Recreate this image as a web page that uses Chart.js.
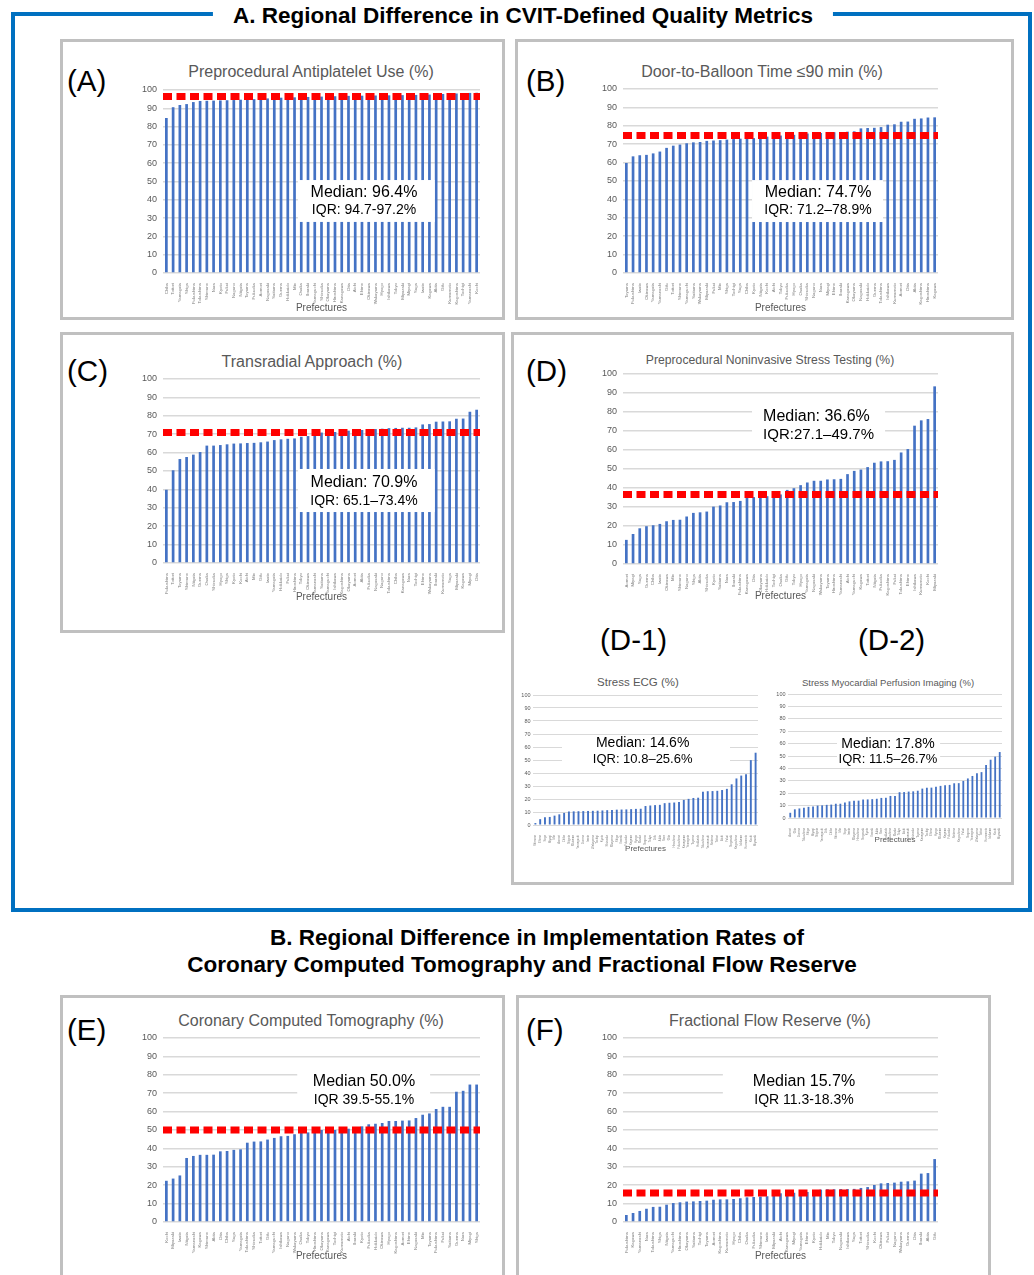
<!DOCTYPE html>
<html>
<head>
<meta charset="utf-8">
<script src="https://cdn.jsdelivr.net/npm/chart.js@4.4.1/dist/chart.umd.min.js"></script>
<style>
  html, body { margin: 0; padding: 0; background: #fff; }
  #page { position: relative; width: 1034px; height: 1275px; overflow: hidden;
          font-family: "Liberation Sans", Arial, sans-serif; }
  .frame { position: absolute; box-sizing: border-box; border: 4px solid #0070C0; }
  .panel { position: absolute; box-sizing: border-box; border: 3px solid #c0c0c0; }
  .sec { position: absolute; font-weight: bold; font-size: 22.5px; color: #000; background: #fff;
         white-space: nowrap; transform: translate(-50%, -50%); padding: 0 20px; line-height: 1; }
  .tag { position: absolute; font-size: 29.5px; color: #000; line-height: 1;
         transform: translateY(-50%); white-space: nowrap; }
  .ttl { position: absolute; color: #595959; white-space: nowrap; line-height: 1;
         transform: translate(-50%, -50%); }
  canvas { position: absolute; }
</style>
</head>
<body>
<div id="page">
  <div class="frame" style="left:11px;top:12px;width:1021px;height:900px;"></div>
  <div class="sec" style="left:523px;top:16px;">A. Regional Difference in CVIT-Defined Quality Metrics</div>

  <div class="panel" style="left:60px;top:39px;width:445px;height:281px;"></div>
  <div class="panel" style="left:515px;top:39px;width:499px;height:281px;"></div>
  <div class="panel" style="left:60px;top:332px;width:445px;height:301px;"></div>
  <div class="panel" style="left:511px;top:332px;width:503px;height:553px;"></div>
  <div class="panel" style="left:60px;top:995px;width:445px;height:300px;"></div>
  <div class="panel" style="left:516px;top:995px;width:475px;height:300px;"></div>

  <div class="sec" style="left:537px;top:938px;padding:0;">B. Regional Difference in Implementation Rates of</div>
  <div class="sec" style="left:522px;top:965px;padding:0;">Coronary Computed Tomography and Fractional Flow Reserve</div>

  <div class="tag" style="left:67px;top:81px;">(A)</div>
  <div class="tag" style="left:526px;top:81px;">(B)</div>
  <div class="tag" style="left:67px;top:371px;">(C)</div>
  <div class="tag" style="left:526px;top:371px;">(D)</div>
  <div class="tag" style="left:600px;top:640px;">(D-1)</div>
  <div class="tag" style="left:858px;top:640px;">(D-2)</div>
  <div class="tag" style="left:67px;top:1030px;">(E)</div>
  <div class="tag" style="left:526px;top:1030px;">(F)</div>

  <div class="ttl" style="left:311px;top:72px;font-size:16px;">Preprocedural Antiplatelet Use (%)</div>
  <div class="ttl" style="left:762px;top:72px;font-size:16px;">Door-to-Balloon Time ≤90 min (%)</div>
  <div class="ttl" style="left:312px;top:362px;font-size:16px;">Transradial Approach (%)</div>
  <div class="ttl" style="left:770px;top:360px;font-size:12.2px;">Preprocedural Noninvasive Stress Testing (%)</div>
  <div class="ttl" style="left:638px;top:683px;font-size:11.5px;">Stress ECG (%)</div>
  <div class="ttl" style="left:888px;top:683px;font-size:9.5px;">Stress Myocardial Perfusion Imaging (%)</div>
  <div class="ttl" style="left:311px;top:1021px;font-size:16px;">Coronary Computed Tomography (%)</div>
  <div class="ttl" style="left:770px;top:1021px;font-size:16px;">Fractional Flow Reserve (%)</div>
</div>

<script>
// ---- Data: prefectures sorted by rate in each metric ----
const prefA = ['Chiba','Tottori','Yamagata','Shiga','Fukushima','Tokushima','Shimane','Nara','Kyoto','Fukui','Nagano','Niigata','Toyama','Fukuoka','Aomori','Nagasaki','Saitama','Gunma','Hokkaido','Mie','Osaka','Ibaraki','Yamaguchi','Shizuoka','Okayama','Hiroshima','Kanagawa','Oita','Aichi','Ehime','Okinawa','Wakayama','Hyogo','Ishikawa','Tokyo','Miyazaki','Miyagi','Saga','Iwate','Kagawa','Akita','Gifu','Kumamoto','Kagoshima','Tochigi','Yamanashi','Kochi'];
const valA = [84.7,90.6,91.8,92.3,93.4,94.0,94.1,94.2,94.3,94.4,94.5,94.7,94.8,95.0,95.1,95.4,95.6,95.8,95.9,96.0,96.1,96.2,96.3,96.4,96.5,96.6,96.7,96.8,96.9,96.9,97.0,97.0,97.0,97.1,97.1,97.2,97.2,97.3,97.4,97.5,97.6,97.8,98.0,98.1,98.3,98.4,98.5];

const prefB = ['Toyama','Fukushima','Iwate','Okinawa','Yamagata','Yamanashi','Gifu','Tottori','Shimane','Yamaguchi','Saitama','Wakayama','Miyazaki','Fukui','Mie','Shiga','Tochigi','Saga','Chiba','Kyoto','Niigata','Kochi','Aichi','Tokyo','Fukuoka','Hyogo','Osaka','Shizuoka','Nagano','Nara','Miyagi','Ehime','Ibaraki','Kanagawa','Okayama','Nagasaki','Hokkaido','Gunma','Tokushima','Ishikawa','Kumamoto','Aomori','Oita','Akita','Kagoshima','Hiroshima','Kagawa'];
const valB = [59.8,63.4,64.0,64.2,65.0,66.0,68.0,69.2,69.8,70.5,71.0,71.2,71.8,72.0,72.2,72.5,72.8,73.0,73.1,73.3,73.6,74.1,74.3,74.7,74.9,75.1,75.6,75.8,76.1,76.1,76.3,76.5,76.6,76.8,77.0,78.6,78.8,78.9,79.3,80.6,80.8,82.2,82.3,83.8,84.0,84.5,84.6];

const prefC = ['Fukushima','Tottori','Toyama','Shimane','Niigata','Gunma','Osaka','Shizuoka','Hyogo','Shiga','Kyoto','Kochi','Aichi','Mie','Gifu','Iwate','Yamagata','Hokkaido','Fukui','Hiroshima','Tokyo','Okinawa','Yamanashi','Saitama','Yamaguchi','Ishikawa','Kagoshima','Okayama','Aomori','Akita','Fukuoka','Nagasaki','Nagano','Tokushima','Chiba','Kanagawa','Nara','Tochigi','Ehime','Wakayama','Ibaraki','Kumamoto','Saga','Miyazaki','Kagawa','Miyagi','Oita'];
const valC = [39.8,50.4,56.5,57.6,58.9,60.3,63.8,63.8,64.1,64.5,64.9,65.0,65.2,65.3,65.6,66.0,66.8,67.2,67.5,67.7,68.6,69.0,70.3,70.9,70.9,71.2,71.7,71.9,72.2,72.3,72.6,72.8,73.0,73.3,73.4,73.5,73.5,73.7,75.3,75.5,76.8,76.9,77.0,78.4,78.5,82.2,83.3];

const prefD = ['Aomori','Miyagi','Saga','Gunma','Chiba','Iwate','Okinawa','Mie','Shimane','Nagano','Shiga','Akita','Shizuoka','Kyoto','Saitama','Nara','Ibaraki','Fukushima','Kanagawa','Oita','Okayama','Hokkaido','Tochigi','Osaka','Gifu','Tokyo','Hyogo','Yamagata','Nagasaki','Wakayama','Toyama','Hiroshima','Yamanashi','Aichi','Yamaguchi','Kagawa','Tottori','Niigata','Fukuoka','Kagoshima','Fukui','Tokushima','Ehime','Ishikawa','Kumamoto','Kochi','Miyazaki'];
const valD = [12.7,15.8,18.8,19.9,20.4,21.1,22.5,23.2,23.3,25.0,26.9,27.2,27.6,30.2,30.8,32.5,32.6,33.2,35.0,35.2,35.4,35.7,36.4,36.6,39.0,39.9,41.5,42.9,43.8,43.8,44.5,44.6,44.8,47.3,49.0,49.7,51.0,53.3,54.0,54.1,54.8,58.7,60.5,72.8,75.6,76.3,93.5];

const prefD1 = ['Shimane','Ehime','Saga','Miyagi','Mie','Aomori','Chiba','Niigata','Okinawa','Yamaguchi','Gunma','Iwate','Wakayama','Tochigi','Kyoto','Shizuoka','Okayama','Shiga','Ibaraki','Fukuoka','Kagawa','Hyogo','Osaka','Nagano','Tokyo','Gifu','Akita','Nara','Oita','Hiroshima','Fukushima','Kanagawa','Yamagata','Toyama','Hokkaido','Tokushima','Yamanashi','Saitama','Tottori','Aichi','Fukui','Nagasaki','Kagoshima','Ishikawa','Kumamoto','Kochi','Miyazaki'];
const valD1 = [1.5,4.5,6.0,6.2,7.2,8.2,9.3,10.4,10.5,10.6,10.7,10.8,10.9,11.0,11.2,11.4,11.6,11.8,11.9,12.0,12.2,12.4,12.5,14.6,15.0,15.3,15.5,16.8,17.1,17.3,17.6,19.3,20.1,20.8,21.0,25.6,26.0,26.1,26.3,26.9,27.8,31.3,35.8,38.0,39.0,49.9,55.6];

const prefD2 = ['Aomori','Oita','Gunma','Tokushima','Shiga','Miyagi','Niigata','Yamaguchi','Gifu','Chiba','Shimane','Mie','Saga','Iwate','Okayama','Hiroshima','Nagasaki','Kyoto','Ibaraki','Akita','Nara','Hokkaido','Fukushima','Osaka','Tokyo','Aichi','Yamanashi','Shizuoka','Toyama','Kanagawa','Tochigi','Ehime','Hyogo','Okinawa','Kagawa','Fukuoka','Saitama','Kagoshima','Fukui','Nagano','Yamagata','Wakayama','Tottori','Kumamoto','Ishikawa','Kochi','Miyazaki'];
const valD2 = [4.2,7.0,7.7,8.3,9.0,9.2,10.0,10.2,10.6,10.8,11.5,11.5,12.4,13.4,13.9,14.0,14.9,15.0,15.2,15.5,16.2,16.3,17.8,17.8,20.8,20.9,21.3,21.5,22.0,23.7,24.4,24.5,25.2,25.9,26.5,26.7,28.0,28.1,29.9,31.9,33.9,36.1,37.0,42.7,47.0,49.5,53.2];

const prefE = ['Kochi','Miyazaki','Iwate','Niigata','Yamanashi','Kagawa','Shimane','Akita','Oita','Chiba','Saga','Yamagata','Tokushima','Shizuoka','Tottori','Gifu','Yamaguchi','Ishikawa','Nagano','Wakayama','Osaka','Tokyo','Hiroshima','Okayama','Kanagawa','Tochigi','Kumamoto','Aichi','Ibaraki','Kyoto','Fukuoka','Hokkaido','Okinawa','Hyogo','Kagoshima','Aomori','Ehime','Nagasaki','Mie','Toyama','Fukushima','Fukui','Saitama','Gunma','Nara','Miyagi','Shiga'];
const valE = [22.4,23.6,25.3,34.8,35.9,36.5,36.5,36.6,38.4,38.6,39.2,39.5,43.1,43.7,43.8,44.8,45.7,46.6,46.8,47.7,48.4,48.7,49.1,50.0,50.0,50.0,50.2,50.7,51.4,52.0,53.1,53.4,53.8,54.9,54.9,55.1,55.2,56.5,58.3,59.0,61.4,62.6,62.6,70.8,71.3,74.7,74.7];

const prefF = ['Fukushima','Kagawa','Yamanashi','Nara','Tokushima','Shiga','Niigata','Yamaguchi','Hiroshima','Okayama','Saitama','Tochigi','Toyama','Aomori','Kagoshima','Kumamoto','Hyogo','Chiba','Osaka','Fukuoka','Shimane','Iwate','Miyazaki','Aichi','Kanagawa','Miyagi','Yamagata','Ehime','Kyoto','Hokkaido','Mie','Tokyo','Nagasaki','Ishikawa','Saga','Tottori','Shizuoka','Kochi','Okinawa','Fukui','Nagano','Wakayama','Gunma','Oita','Ibaraki','Akita','Gifu'];
const valF = [3.8,4.9,6.0,7.2,8.2,8.3,9.4,10.3,10.7,11.1,11.2,11.4,11.6,12.1,12.3,12.3,12.5,12.9,13.4,13.6,13.8,14.0,14.7,15.6,15.8,15.9,16.1,16.3,17.4,17.6,17.8,17.8,17.9,17.9,18.0,18.5,19.0,20.1,21.0,21.2,21.4,21.9,22.1,22.5,26.3,26.6,34.2];

// Summary statistics (median, interquartile range) per metric
const medA = 96.4,  iqrA = [94.7, 97.2];
const medB = 74.7,  iqrB = [71.2, 78.9];
const medC = 70.9,  iqrC = [65.1, 73.4];
const medD = 36.6,  iqrD = [27.1, 49.7];
const medD1 = 14.6, iqrD1 = [10.8, 25.6];
const medD2 = 17.8, iqrD2 = [11.5, 26.7];
const medE = 50.0,  iqrE = [39.5, 55.1];
const medF = 15.7,  iqrF = [11.3, 18.3];

// Value-axis ticks (percent)
const yTickMin = 0, yTickMax = 100, yTickStep = 10;

// ---- Rendering ----
const FONT = '"Liberation Sans", Arial, sans-serif';
Chart.defaults.font.family = FONT;

const f1 = v => v.toFixed(1);

// Draws the white summary box, its text and the dashed median line
function annotation(p) {
  return {
    id: 'annotation',
    afterDatasetsDraw(chart) {
      const { ctx, chartArea: a, scales: { x, y } } = chart;
      ctx.save();
      const b = p.box;
      const x0 = x.getPixelForValue(b.i0), x1 = x.getPixelForValue(b.i1);
      const y0 = y.getPixelForValue(b.v1), y1 = y.getPixelForValue(b.v0);
      ctx.fillStyle = '#fff';
      ctx.fillRect(x0, y0, x1 - x0, y1 - y0);
      ctx.fillStyle = '#000';
      ctx.textBaseline = 'middle';
      ctx.textAlign = p.text.align;
      const tx = x.getPixelForValue(p.text.i);
      p.text.lines.forEach(([str, v, size]) => {
        ctx.font = size + 'px ' + FONT;
        ctx.fillText(str, tx, y.getPixelForValue(v));
      });
      if (p.median != null) {
        const my = y.getPixelForValue(p.median);
        ctx.strokeStyle = '#ff0000';
        ctx.lineWidth = 7;
        ctx.setLineDash([9, 4.5]);
        ctx.beginPath();
        ctx.moveTo(a.left, my);
        ctx.lineTo(a.right, my);
        ctx.stroke();
      }
      ctx.restore();
    }
  };
}

function makeChart(p) {
  const s = p.small;
  const yW = s ? 22 : 36, padT = s ? 8 : 13, padR = s ? 5 : 6;
  const titleFont = s ? 8 : 10;
  const left = p.area.l - yW, top = p.area.t - padT;
  const width = p.area.r + padR - left;
  const height = Math.round(p.xTitleY + titleFont * 0.6 - top);
  const xH = top + height - p.area.b;

  const cv = document.createElement('canvas');
  cv.width = width; cv.height = height;
  cv.style.left = left + 'px'; cv.style.top = top + 'px';
  cv.style.width = width + 'px'; cv.style.height = height + 'px';
  document.getElementById('page').appendChild(cv);

  new Chart(cv, {
    type: 'bar',
    data: {
      labels: p.labels,
      datasets: [{ data: p.values, backgroundColor: '#4472C4', barPercentage: 0.4, categoryPercentage: 1 }]
    },
    options: {
      responsive: false,
      animation: false,
      devicePixelRatio: 1,
      layout: { padding: { top: padT, right: padR, left: 0, bottom: 0 } },
      plugins: { legend: { display: false }, tooltip: { enabled: false } },
      scales: {
        x: {
          grid: { display: false },
          border: { display: false },
          ticks: { autoSkip: false, minRotation: 90, maxRotation: 90, padding: 2,
                   font: { size: s ? 2.8 : 4.3 }, color: '#7f7f7f' },
          title: { display: true, text: 'Prefectures', color: '#595959',
                   font: { size: titleFont }, padding: 0 },
          afterFit: sc => { sc.height = xH; }
        },
        y: {
          min: yTickMin, max: yTickMax,
          ticks: { stepSize: yTickStep, padding: s ? 2.5 : 6, font: { size: s ? 5.5 : 9 }, color: '#595959' },
          grid: { color: '#d9d9d9', lineWidth: s ? 1 : 1.5, drawTicks: false },
          border: { display: false },
          afterFit: sc => { sc.width = yW; }
        }
      }
    },
    plugins: [annotation(p)]
  });
}

const panels = [
  { labels: prefA, values: valA, median: medA, area: { l: 163, t: 90, r: 480, b: 273 }, xTitleY: 308,
    box: { i0: 19.5, i1: 39.8, v0: 27.9, v1: 50.8 },
    text: { i: 29.3, align: 'center', lines: [['Median: ' + f1(medA) + '%', 43.7, 16], ['IQR: ' + f1(iqrA[0]) + '-' + f1(iqrA[1]) + '%', 34.4, 14]] } },
  { labels: prefB, values: valB, median: medB, area: { l: 623, t: 89, r: 938, b: 273 }, xTitleY: 308,
    box: { i0: 18.75, i1: 38.3, v0: 27.7, v1: 50.5 },
    text: { i: 28.6, align: 'center', lines: [['Median: ' + f1(medB) + '%', 43.5, 16], ['IQR: ' + f1(iqrB[0]) + '–' + f1(iqrB[1]) + '%', 34.2, 14]] } },
  { labels: prefC, values: valC, median: medC, area: { l: 163, t: 379, r: 480, b: 563 }, xTitleY: 597,
    box: { i0: 19.5, i1: 39.8, v0: 27.7, v1: 51.1 },
    text: { i: 29.3, align: 'center', lines: [['Median: ' + f1(medC) + '%', 43.5, 16], ['IQR: ' + f1(iqrC[0]) + '–' + f1(iqrC[1]) + '%', 33.7, 14]] } },
  { labels: prefD, values: valD, median: medD, area: { l: 623, t: 374, r: 938, b: 564 }, xTitleY: 596,
    box: { i0: 18.75, i1: 38.6, v0: 63.2, v1: 84.2 },
    text: { i: 20.4, align: 'left', lines: [['Median: ' + f1(medD) + '%', 77.4, 16], ['IQR:' + f1(iqrD[0]) + '–' + f1(iqrD[1]) + '%', 67.9, 15]] } },
  { labels: prefD1, values: valD1, median: null, small: true, area: { l: 533, t: 695, r: 758, b: 825 }, xTitleY: 849,
    box: { i0: 5.56, i1: 40.65, v0: 46.2, v1: 67.7 },
    text: { i: 22.4, align: 'center', lines: [['Median: ' + f1(medD1) + '%', 63.1, 14], ['IQR: ' + f1(iqrD1[0]) + '–' + f1(iqrD1[1]) + '%', 50.8, 13]] } },
  { labels: prefD2, values: valD2, median: null, small: true, area: { l: 788, t: 694, r: 1002, b: 818 }, xTitleY: 840,
    box: { i0: 10.26, i1: 32.9, v0: 44.4, v1: 65.3 },
    text: { i: 21.46, align: 'center', lines: [['Median: ' + f1(medD2) + '%', 59.7, 14], ['IQR: ' + f1(iqrD2[0]) + '–' + f1(iqrD2[1]) + '%', 47.6, 13]] } },
  { labels: prefE, values: valE, median: medE, area: { l: 163, t: 1038, r: 480, b: 1222 }, xTitleY: 1256,
    box: { i0: 19.4, i1: 39.1, v0: 63, v1: 87 },
    text: { i: 29.3, align: 'center', lines: [['Median ' + f1(medE) + '%', 76.1, 16], ['IQR ' + f1(iqrE[0]) + '-' + f1(iqrE[1]) + '%', 66.3, 14]] } },
  { labels: prefF, values: valF, median: medF, area: { l: 623, t: 1038, r: 938, b: 1222 }, xTitleY: 1256,
    box: { i0: 14.4, i1: 38.6, v0: 63, v1: 87 },
    text: { i: 26.5, align: 'center', lines: [['Median ' + f1(medF) + '%', 76.1, 16], ['IQR ' + f1(iqrF[0]) + '-' + f1(iqrF[1]) + '%', 66.3, 14]] } }
];

panels.forEach(makeChart);
</script>
</body>
</html>
